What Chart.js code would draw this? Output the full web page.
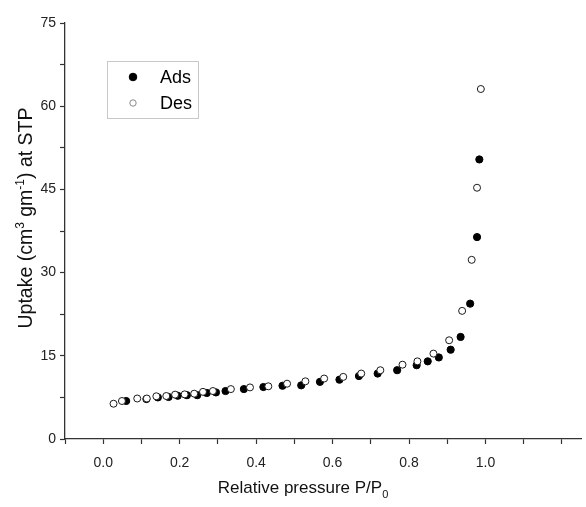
<!DOCTYPE html>
<html>
<head>
<meta charset="utf-8">
<script src="https://cdn.jsdelivr.net/npm/chart.js@4.4.1/dist/chart.umd.min.js"></script>
<style>
  html, body { margin: 0; padding: 0; background: #fff; }
  #wrap { width: 586px; height: 507px; position: relative; }
</style>
</head>
<body>
<div id="wrap"><canvas id="isoChart"></canvas></div>
<script>
// adsorption branch (filled)
const adsX = [0.060, 0.113, 0.143, 0.171, 0.195, 0.219, 0.246, 0.271, 0.295, 0.320, 0.368, 0.419, 0.469, 0.518, 0.567, 0.618, 0.669, 0.718, 0.769, 0.820, 0.849, 0.878, 0.909, 0.935, 0.960, 0.978, 0.984];
const adsY = [6.85, 7.2, 7.5, 7.57, 7.8, 7.9, 7.9, 8.3, 8.4, 8.65, 9.0, 9.37, 9.6, 9.67, 10.3, 10.7, 11.35, 11.8, 12.4, 13.3, 14.0, 14.7, 16.1, 18.4, 24.4, 36.4, 50.4];

// desorption branch (open)
const desX = [0.027, 0.049, 0.089, 0.114, 0.139, 0.165, 0.188, 0.213, 0.238, 0.261, 0.287, 0.334, 0.384, 0.432, 0.481, 0.529, 0.578, 0.628, 0.675, 0.725, 0.783, 0.822, 0.864, 0.905, 0.939, 0.964, 0.978, 0.988];
const desY = [6.36, 6.85, 7.3, 7.3, 7.7, 7.75, 8.0, 8.05, 8.17, 8.5, 8.65, 9.0, 9.3, 9.5, 9.97, 10.4, 10.9, 11.2, 11.8, 12.4, 13.4, 14.0, 15.4, 17.8, 23.1, 32.3, 45.3, 63.1];

const seriesNames = ["Ads", "Des"];
const xTickLabels = ["0.0", "0.2", "0.4", "0.6", "0.8", "1.0"];
const yTickLabels = ["0", "15", "30", "45", "60", "75"];

// axis titles as runs: [text, "n" | "sup" | "sub"]
const xTitleRuns = [["Relative pressure P/P", "n"], ["0", "sub"]];
const yTitleRuns = [["Uptake (cm", "n"], ["3", "sup"], [" gm", "n"], ["-1", "sup"], [") at STP", "n"]];

const FONT = "'Liberation Sans', Arial, sans-serif";
const INK = "#222";

const toPoints = (xs, ys) => xs.map((x, i) => ({ x, y: ys[i] }));

// draws a run list centred on (cx, cy) baseline, rotated by angle
const drawRuns = (ctx, runs, cx, cy, size, angle) => {
  const small = Math.round(size * 0.64);
  const fontFor = kind => (kind === "n" ? size : small) + "px " + FONT;
  let total = 0;
  runs.forEach(([t, k]) => { ctx.font = fontFor(k); total += ctx.measureText(t).width; });
  ctx.save();
  ctx.translate(cx, cy);
  ctx.rotate(angle);
  ctx.fillStyle = "#111";
  ctx.textBaseline = "alphabetic";
  ctx.textAlign = "left";
  let x = -total / 2;
  runs.forEach(([t, k]) => {
    ctx.font = fontFor(k);
    const dy = k === "sup" ? -size * 0.42 : k === "sub" ? size * 0.28 : 0;
    ctx.fillText(t, x, dy);
    x += ctx.measureText(t).width;
  });
  ctx.restore();
};

const axisTitles = {
  id: "axisTitles",
  afterDraw(chart) {
    const { ctx } = chart;
    drawRuns(ctx, xTitleRuns, 303, 493, 17, 0);
    drawRuns(ctx, yTitleRuns, 32, 218, 19.5, -Math.PI / 2);
  }
};

// legend box drawn inside the plot, top-left
const boxLegend = {
  id: "boxLegend",
  afterDraw(chart) {
    const { ctx } = chart;
    const x0 = 107, y0 = 61, w = 91, h = 57;
    ctx.save();
    ctx.strokeStyle = "#c8c8c8";
    ctx.lineWidth = 1;
    ctx.strokeRect(x0 + 0.5, y0 + 0.5, w, h);
    chart.data.datasets.forEach((ds, i) => {
      const cy = y0 + 16 + i * 26;
      ctx.beginPath();
      ctx.arc(x0 + 26, cy, i === 0 ? 3.8 : 3.2, 0, Math.PI * 2);
      ctx.fillStyle = ds.backgroundColor;
      ctx.fill();
      ctx.lineWidth = 1;
      ctx.strokeStyle = i === 0 ? "#000" : "#888";
      ctx.stroke();
      ctx.fillStyle = "#000";
      ctx.font = "18px " + FONT;
      ctx.textBaseline = "middle";
      ctx.textAlign = "left";
      ctx.fillText(ds.label, x0 + 53, cy + 1);
    });
    ctx.restore();
  }
};

const init = () => {
  const ctx = document.getElementById("isoChart");

  new Chart(ctx, {
    type: "scatter",
    data: {
      datasets: [
        {
          label: seriesNames[0],
          data: toPoints(adsX, adsY),
          backgroundColor: "#000",
          borderColor: "#000",
          borderWidth: 1,
          pointRadius: 3.6,
          order: 2
        },
        {
          label: seriesNames[1],
          data: toPoints(desX, desY),
          backgroundColor: "#fff",
          borderColor: "#1a1a1a",
          borderWidth: 1,
          pointRadius: 3.5,
          order: 1
        }
      ]
    },
    options: {
      responsive: true,
      maintainAspectRatio: false,
      animation: false,
      layout: { padding: { top: 23, right: 0, left: 0, bottom: 0 } },
      plugins: {
        legend: { display: false },
        tooltip: { enabled: false }
      },
      scales: {
        x: {
          type: "linear",
          min: -0.1,
          max: 1.25,
          afterFit: s => { s.height = 68; },
          afterBuildTicks: s => {
            s.ticks = [];
            for (let k = -1; k <= 12; k++) s.ticks.push({ value: k / 10 });
          },
          border: { display: true, color: "#333", width: 1.3 },
          grid: { drawOnChartArea: false, drawTicks: true, tickLength: 5, tickColor: "#333", tickWidth: 1.2 },
          ticks: {
            padding: 11,
            color: INK,
            font: { family: FONT, size: 14 },
            maxRotation: 0,
            autoSkip: false,
            callback: v => {
              const k = Math.round(v * 10);
              return (k % 2 === 0 && k >= 0) ? (xTickLabels[k / 2] || "") : "";
            }
          }
        },
        y: {
          type: "linear",
          min: 0,
          max: 75,
          afterFit: s => { s.width = 65; },
          border: { display: true, color: "#333", width: 1.3 },
          grid: { drawOnChartArea: false, drawTicks: true, tickLength: 5, tickColor: "#333", tickWidth: 1.2 },
          ticks: {
            stepSize: 7.5,
            padding: 4,
            color: INK,
            font: { family: FONT, size: 14 },
            autoSkip: false,
            callback: v => {
              const k = Math.round(v / 7.5);
              return k % 2 === 0 ? (yTickLabels[k / 2] || "") : "";
            }
          }
        }
      }
    },
    plugins: [boxLegend, axisTitles]
  });
};

if (document.readyState === "loading") {
  document.addEventListener("DOMContentLoaded", init);
} else {
  init();
}
</script>
</body>
</html>
